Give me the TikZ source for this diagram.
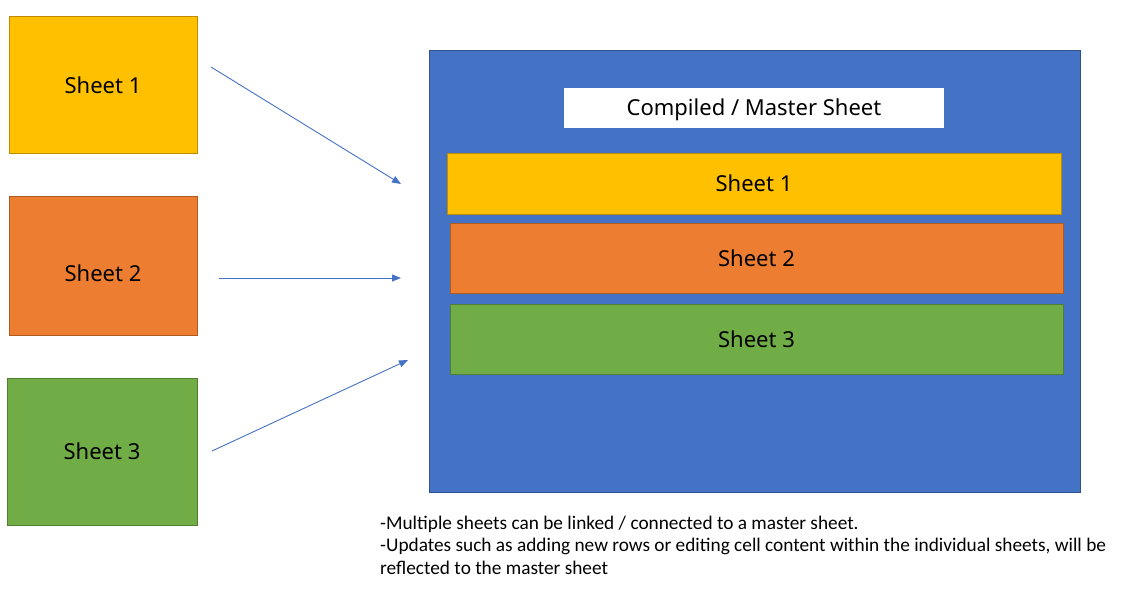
\documentclass[tikz,border=0pt]{standalone}
\usepackage{fontspec}
\setmainfont{Carlito}
\newfontfamily\labelfont{Noto Sans}
\usetikzlibrary{arrows.meta}
\definecolor{ylw}{HTML}{FFC000}
\definecolor{ylwb}{HTML}{BC8C00}
\definecolor{org}{HTML}{ED7D31}
\definecolor{orgb}{HTML}{AE5A21}
\definecolor{grn}{HTML}{70AD47}
\definecolor{grnb}{HTML}{507E32}
\definecolor{blu}{HTML}{4472C4}
\definecolor{blub}{HTML}{2F528F}
\tikzset{
  sheetbox/.style={draw, line width=0.8pt, inner sep=0pt},
  labeltext/.style={inner sep=0pt, font=\labelfont\fontsize{22}{26}\selectfont},
  notetext/.style={anchor=base west, inner sep=0pt, font=\fontsize{19.3}{22}\selectfont},
  link/.style={draw=blu, line width=0.9pt, -{Triangle[length=9pt,width=7pt]}},
}
\begin{document}
\begin{tikzpicture}[x=1pt,y=-1pt]
\useasboundingbox (0,0) rectangle (1127,600);
% left sheets
\node[sheetbox, fill=ylw, draw=ylwb, minimum width=188pt, minimum height=137pt] (s1) at (103,84.5) {};
\node[sheetbox, fill=org, draw=orgb, minimum width=188pt, minimum height=139pt] (s2) at (103,265.5) {};
\node[sheetbox, fill=grn, draw=grnb, minimum width=190pt, minimum height=147pt] (s3) at (102,451.5) {};
\node[labeltext] (s1t) at (103,85) {Sheet 1};
\node[labeltext] (s2t) at (103,273) {Sheet 2};
\node[labeltext] (s3t) at (102,451) {Sheet 3};
% master
\node[draw=blub, fill=blu, line width=0.8pt, minimum width=651pt, minimum height=442pt, inner sep=0pt] (m) at (754.5,271) {};
\node[fill=white, minimum width=380pt, minimum height=40pt, inner sep=0pt] (t) at (754,108) {};
\node[labeltext] (tt) at (754,110) {Compiled / Master Sheet};
\node[sheetbox, fill=ylw, draw=ylwb, minimum width=614pt, minimum height=61pt] (m1) at (754,183.5) {};
\node[sheetbox, fill=org, draw=orgb, minimum width=613pt, minimum height=70pt] (m2) at (756.5,258) {};
\node[sheetbox, fill=grn, draw=grnb, minimum width=613pt, minimum height=70pt] (m3) at (756.5,339) {};
\node[labeltext] (m1t) at (754,183) {Sheet 1};
\node[labeltext] (m2t) at (756.5,258) {Sheet 2};
\node[labeltext] (m3t) at (756.5,339) {Sheet 3};
% arrows
\coordinate (a1s) at (211,67);
\coordinate (a1e) at (401,184);
\coordinate (a2s) at (219,278);
\coordinate (a2e) at (401,278);
\coordinate (a3s) at (212,451);
\coordinate (a3e) at (408,360);
\draw[link] (a1s) -- (a1e);
\draw[link] (a2s) -- (a2e);
\draw[link] (a3s) -- (a3e);
% note
\node[notetext] (n1) at (380,529) {-Multiple sheets can be linked / connected to a master sheet.};
\node[notetext] (n2) at (380,551.5) {-Updates such as adding new rows or editing cell content within the individual sheets, will be};
\node[notetext] (n3) at (380,574) {reflected to the master sheet};
\end{tikzpicture}
\end{document}
